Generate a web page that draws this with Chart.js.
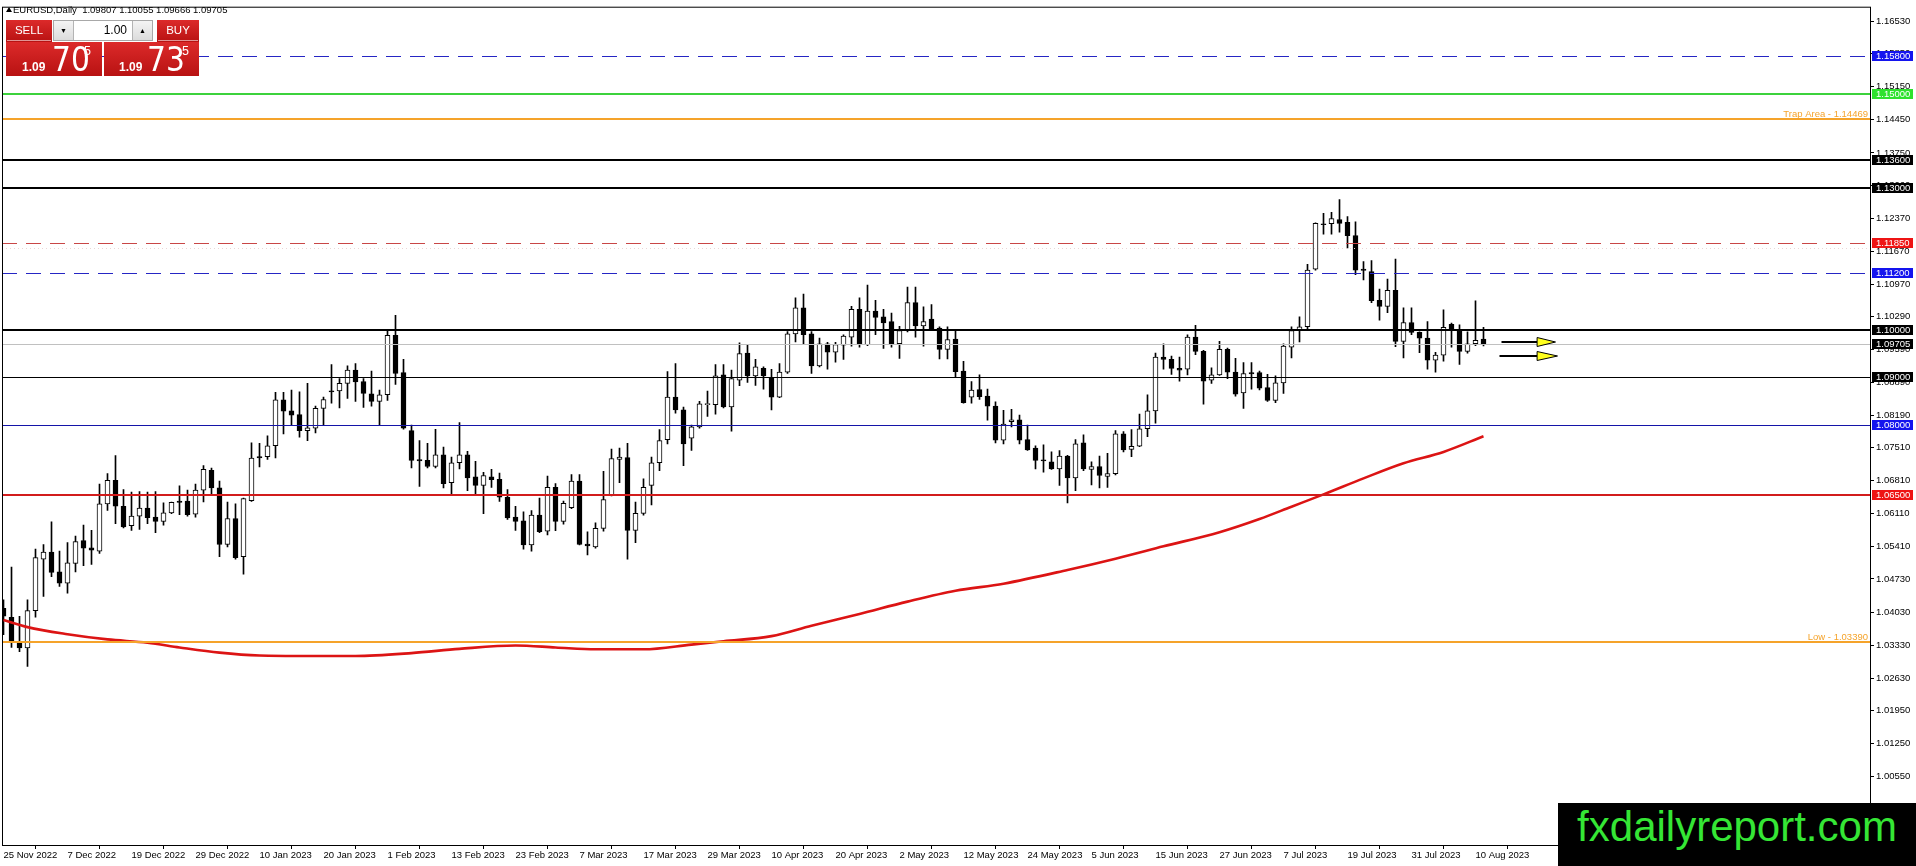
<!DOCTYPE html>
<html>
<head>
<meta charset="utf-8">
<title>EURUSD Daily</title>
<script src="https://cdn.jsdelivr.net/npm/chart.js@4.4.1/dist/chart.umd.min.js"></script>
<style>
  html, body { margin: 0; padding: 0; background: #fff; }
  #wrap { position: relative; width: 1916px; height: 866px; overflow: hidden; font-family: "Liberation Sans", Arial, sans-serif; }
  canvas { display: block; position: absolute; left: 0; top: 0; }
  #hdr { position: absolute; left: 13px; top: 5px; font-size: 9.5px; line-height: 9.5px; color: #000; white-space: pre; }
  #tri { position: absolute; left: 6px; top: 7px; width: 0; height: 0; border-left: 3px solid transparent; border-right: 3px solid transparent; border-bottom: 5px solid #000; }
  .red { position: absolute; background: linear-gradient(#dc2a2a, #b81212); color: #fff; }
  .btn { font-size: 11.5px; text-align: center; line-height: 21px; }
  .btn span { display: inline-block; border-bottom: 1px solid rgba(255,255,255,0.55); padding: 0 8px; line-height: 19px; }
  #lot { position: absolute; left: 53px; top: 20px; width: 98px; height: 19px; border: 1px solid #a8a8a8; background: #fff; }
  #lot .b { position: absolute; top: 0; width: 19px; height: 19px; background: linear-gradient(#f4f4f4, #dcdcdc); font-size: 7px; line-height: 19px; text-align: center; color: #000; }
  #lot .v { position: absolute; left: 20px; width: 53px; top: 0; height: 19px; font-size: 12px; line-height: 19px; text-align: right; color: #000; }
  .px span { position: absolute; color: #fff; white-space: nowrap; }
  .px .sm { font-size: 12px; line-height: 12px; font-weight: bold; top: 19px; }
  .px .big { font-family: "Liberation Sans Narrow", "DejaVu Sans Condensed", "Liberation Sans", sans-serif; font-size: 33px; line-height: 33px; top: 1px; }
  .px .sup { font-size: 12.5px; line-height: 12.5px; top: 3px; }
  #mark { position: absolute; left: 1558px; top: 803px; width: 358px; height: 63px; background: #000; color: #35e635; font-size: 42px; line-height: 48px; text-align: center; }
</style>
</head>
<body>
<div id="wrap">
  <canvas id="fx" width="1916" height="866"></canvas>
  <div id="tri"></div>
  <div id="hdr"></div>
  <div class="red btn" style="left:6px;top:20px;width:46px;height:22px;"><span>SELL</span></div>
  <div id="lot"><div class="b" style="left:0;border-right:1px solid #b4b4b4;">&#9660;</div><div class="v">1.00</div><div class="b" style="right:0;border-left:1px solid #b4b4b4;">&#9650;</div></div>
  <div class="red btn" style="left:157px;top:20px;width:42px;height:22px;"><span>BUY</span></div>
  <div class="red px" style="left:6px;top:42px;width:96px;height:34px;"><span class="sm" style="left:16px;">1.09</span><span class="big" style="left:46px;">70</span><span class="sup" style="left:78px;">5</span></div>
  <div class="red px" style="left:104px;top:42px;width:95px;height:34px;"><span class="sm" style="left:15px;">1.09</span><span class="big" style="left:43px;">73</span><span class="sup" style="left:78px;">5</span></div>
  <div id="mark">fxdailyreport.com</div>
</div>
<script>
// EURUSD daily candles, 25 Nov 2022 .. 11 Aug 2023
const opens = [
  1.0411, 1.0392, 1.0338, 1.0327, 1.0406, 1.0515, 1.0530, 1.0488, 1.0464, 1.0506,
  1.0554, 1.0539, 1.0532, 1.0632, 1.0682, 1.0627, 1.0586, 1.0606, 1.0623, 1.0604,
  1.0595, 1.0613, 1.0638, 1.0638, 1.0610, 1.0661, 1.0703, 1.0666, 1.0546, 1.0601,
  1.0520, 1.0639, 1.0732, 1.0732, 1.0755, 1.0852, 1.0829, 1.0821, 1.0787, 1.0792,
  1.0834, 1.0871, 1.0871, 1.0887, 1.0915, 1.0891, 1.0865, 1.0849, 1.0863, 1.0989,
  1.0910, 1.0787, 1.0726, 1.0724, 1.0711, 1.0736, 1.0677, 1.0719, 1.0736, 1.0689,
  1.0671, 1.0689, 1.0684, 1.0646, 1.0604, 1.0596, 1.0545, 1.0608, 1.0574, 1.0667,
  1.0595, 1.0624, 1.0680, 1.0547, 1.0541, 1.0580, 1.0650, 1.0726, 1.0730, 1.0576,
  1.0612, 1.0671, 1.0719, 1.0768, 1.0858, 1.0831, 1.0771, 1.0795, 1.0842, 1.0842,
  1.0905, 1.0837, 1.0894, 1.0951, 1.0903, 1.0919, 1.0900, 1.0858, 1.0911, 1.0992,
  1.1047, 1.0992, 1.0924, 1.0971, 1.0953, 1.0968, 1.0985, 1.1044, 1.0969, 1.1040,
  1.1028, 1.1018, 1.0971, 1.0999, 1.1058, 1.1009, 1.1023, 1.1004, 1.0959, 1.0981,
  1.0913, 1.0858, 1.0874, 1.0860, 1.0839, 1.0767, 1.0806, 1.0810, 1.0768, 1.0750,
  1.0724, 1.0721, 1.0706, 1.0733, 1.0687, 1.0761, 1.0705, 1.0711, 1.0690, 1.0696,
  1.0780, 1.0747, 1.0754, 1.0791, 1.0829, 1.0943, 1.0938, 1.0919, 1.0917, 1.0985,
  1.0955, 1.0894, 1.0905, 1.0959, 1.0911, 1.0867, 1.0910, 1.0910, 1.0878, 1.0851,
  1.0888, 1.0964, 1.1001, 1.1007, 1.1129, 1.1225, 1.1225, 1.1234, 1.1228, 1.1200,
  1.1129, 1.1124, 1.1063, 1.1050, 1.1084, 1.0976, 1.1016, 1.0995, 1.0983, 1.0936,
  1.0947, 1.1012, 1.0999, 1.0955, 1.0971, 1.09807
];
const highs = [
  1.0429, 1.0498, 1.0394, 1.0429, 1.0536, 1.0546, 1.0594, 1.0532, 1.0550, 1.0564,
  1.0587, 1.0576, 1.0674, 1.0696, 1.0734, 1.0662, 1.0657, 1.0658, 1.0657, 1.0658,
  1.0634, 1.0636, 1.0670, 1.0661, 1.0674, 1.0713, 1.0708, 1.0680, 1.0636, 1.0632,
  1.0644, 1.0761, 1.0760, 1.0776, 1.0868, 1.0868, 1.0873, 1.0869, 1.0887, 1.0839,
  1.0858, 1.0927, 1.0897, 1.0924, 1.0929, 1.0897, 1.0913, 1.0873, 1.0999, 1.1031,
  1.0938, 1.0799, 1.0766, 1.0760, 1.0790, 1.0752, 1.0731, 1.0804, 1.0743, 1.0722,
  1.0699, 1.0705, 1.0697, 1.0662, 1.0627, 1.0615, 1.0618, 1.0644, 1.0691, 1.0675,
  1.0638, 1.0694, 1.0694, 1.0573, 1.0592, 1.0701, 1.0748, 1.0750, 1.0760, 1.0636,
  1.0685, 1.0731, 1.0789, 1.0912, 1.0929, 1.0837, 1.0799, 1.0849, 1.0871, 1.0927,
  1.0927, 1.0915, 1.0973, 1.0968, 1.0938, 1.0922, 1.0917, 1.0929, 1.0997, 1.1068,
  1.1076, 1.0997, 1.0983, 1.0974, 1.0974, 1.0990, 1.1050, 1.1068, 1.1095, 1.1063,
  1.1044, 1.1036, 1.1008, 1.1091, 1.1091, 1.1049, 1.1054, 1.1007, 1.1007, 1.0999,
  1.0934, 1.0891, 1.0905, 1.0875, 1.0848, 1.0830, 1.0832, 1.0820, 1.0799, 1.0755,
  1.0757, 1.0742, 1.0745, 1.0735, 1.0768, 1.0778, 1.0721, 1.0733, 1.0739, 1.0787,
  1.0785, 1.0789, 1.0822, 1.0863, 1.0951, 1.0971, 1.0945, 1.0943, 1.0990, 1.1010,
  1.0957, 1.0920, 1.0976, 1.0962, 1.0940, 1.0931, 1.0931, 1.0913, 1.0906, 1.0903,
  1.0971, 1.1007, 1.1028, 1.1139, 1.1227, 1.1247, 1.1249, 1.1276, 1.1240, 1.1229,
  1.1145, 1.1147, 1.1087, 1.1108, 1.1150, 1.1047, 1.1047, 1.0996, 1.1018, 1.0953,
  1.1043, 1.1015, 1.1011, 1.0996, 1.1062, 1.10055
];
const lows = [
  1.0355, 1.0328, 1.0319, 1.0288, 1.0392, 1.0436, 1.0478, 1.0457, 1.0443, 1.0488,
  1.0501, 1.0504, 1.0527, 1.0618, 1.0590, 1.0581, 1.0576, 1.0578, 1.0590, 1.0571,
  1.0587, 1.0611, 1.0609, 1.0606, 1.0604, 1.0636, 1.0653, 1.0520, 1.0541, 1.0515,
  1.0483, 1.0637, 1.0710, 1.0726, 1.0729, 1.0780, 1.0799, 1.0773, 1.0766, 1.0782,
  1.0799, 1.0845, 1.0835, 1.0855, 1.0849, 1.0836, 1.0839, 1.0799, 1.0851, 1.0885,
  1.0790, 1.0708, 1.0669, 1.0708, 1.0708, 1.0666, 1.0653, 1.0706, 1.0660, 1.0653,
  1.0611, 1.0667, 1.0637, 1.0599, 1.0576, 1.0536, 1.0532, 1.0571, 1.0566, 1.0575,
  1.0589, 1.0622, 1.0545, 1.0524, 1.0538, 1.0574, 1.0649, 1.0677, 1.0515, 1.0550,
  1.0608, 1.0630, 1.0702, 1.0759, 1.0824, 1.0713, 1.0745, 1.0792, 1.0817, 1.0822,
  1.0835, 1.0786, 1.0882, 1.0889, 1.0883, 1.0875, 1.0831, 1.0857, 1.0908, 1.0975,
  1.0971, 1.0908, 1.0922, 1.0917, 1.0932, 1.0938, 1.0966, 1.0964, 1.0967, 1.0990,
  1.0961, 1.0964, 1.0940, 1.0996, 1.0985, 1.0966, 1.1000, 1.0939, 1.0939, 1.0899,
  1.0845, 1.0845, 1.0853, 1.0809, 1.0761, 1.0759, 1.0795, 1.0759, 1.0745, 1.0706,
  1.0699, 1.0705, 1.0671, 1.0634, 1.0660, 1.0702, 1.0672, 1.0666, 1.0667, 1.0693,
  1.0742, 1.0732, 1.0753, 1.0774, 1.0803, 1.0917, 1.0906, 1.0892, 1.0905, 1.0948,
  1.0843, 1.0887, 1.0904, 1.0897, 1.0860, 1.0834, 1.0875, 1.0873, 1.0849, 1.0846,
  1.0866, 1.0941, 1.0975, 1.1003, 1.1127, 1.1203, 1.1203, 1.1207, 1.1174, 1.1117,
  1.1106, 1.1058, 1.1021, 1.1037, 1.0965, 1.0941, 1.0990, 1.0952, 1.0917, 1.0911,
  1.0934, 1.0964, 1.0927, 1.0951, 1.0967, 1.09666
];
const closes = [
  1.0394, 1.0341, 1.0327, 1.0406, 1.0518, 1.0530, 1.0487, 1.0464, 1.0507, 1.0552,
  1.0538, 1.0534, 1.0632, 1.0682, 1.0627, 1.0583, 1.0606, 1.0623, 1.0603, 1.0595,
  1.0613, 1.0635, 1.0635, 1.0609, 1.0661, 1.0705, 1.0666, 1.0546, 1.0601, 1.0518,
  1.0643, 1.0729, 1.0729, 1.0755, 1.0852, 1.0828, 1.0820, 1.0787, 1.0793, 1.0834,
  1.0853, 1.0869, 1.0887, 1.0915, 1.0890, 1.0866, 1.0849, 1.0863, 1.0989, 1.0908,
  1.0792, 1.0724, 1.0723, 1.0711, 1.0736, 1.0675, 1.0719, 1.0736, 1.0687, 1.0671,
  1.0692, 1.0683, 1.0646, 1.0602, 1.0595, 1.0545, 1.0608, 1.0573, 1.0667, 1.0595,
  1.0633, 1.0680, 1.0546, 1.0543, 1.0580, 1.0641, 1.0728, 1.0731, 1.0576, 1.0612,
  1.0667, 1.0719, 1.0766, 1.0858, 1.0831, 1.0759, 1.0795, 1.0844, 1.0844, 1.0903,
  1.0837, 1.0897, 1.0950, 1.0903, 1.0922, 1.0903, 1.0858, 1.0911, 1.0992, 1.1047,
  1.0990, 1.0924, 1.0971, 1.0953, 1.0969, 1.0987, 1.1044, 1.0971, 1.1040, 1.1027,
  1.1015, 1.0971, 1.0999, 1.1058, 1.1009, 1.1018, 1.1001, 1.0959, 1.0980, 1.0912,
  1.0846, 1.0873, 1.0859, 1.0839, 1.0767, 1.0801, 1.0810, 1.0767, 1.0746, 1.0724,
  1.0723, 1.0706, 1.0733, 1.0687, 1.0759, 1.0706, 1.0711, 1.0692, 1.0696, 1.0780,
  1.0746, 1.0754, 1.0791, 1.0829, 1.0943, 1.0938, 1.0919, 1.0915, 1.0985, 1.0955,
  1.0892, 1.0905, 1.0959, 1.0911, 1.0864, 1.0908, 1.0907, 1.0877, 1.0851, 1.0888,
  1.0966, 1.0999, 1.1007, 1.1127, 1.1226, 1.1223, 1.1236, 1.1226, 1.1200, 1.1127,
  1.1126, 1.1062, 1.1050, 1.1084, 1.0976, 1.1016, 1.0995, 1.0983, 1.0936, 1.0947,
  1.1006, 1.1002, 1.0955, 1.0971, 1.0978, 1.09705
];

// moving average, read at a few bars (bar index, price)
const maBars = [0, 3, 8, 13, 18, 22, 27, 32, 38, 44, 51, 57, 64, 69, 74, 80, 86, 90, 96, 101, 107, 113, 119, 125, 133, 139, 145, 152, 157, 161, 165, 170, 175, 180, 185];
const maValues = [1.0386, 1.0371, 1.0356, 1.0345, 1.0338, 1.0328, 1.0317, 1.0311, 1.0310, 1.0310, 1.0316, 1.0325, 1.0332, 1.0328, 1.0324, 1.0324, 1.0334, 1.0341, 1.0352, 1.0374, 1.0399, 1.0425, 1.0448, 1.0463, 1.0492, 1.0516, 1.0542, 1.0572, 1.0600, 1.0626, 1.0652, 1.0686, 1.0718, 1.0742, 1.0775];

// axis ticks
const dateTickBars = [0, 8, 16, 24, 32, 40, 48, 56, 64, 72, 80, 88, 96, 104, 112, 120, 128, 136, 144, 152, 160, 168, 176, 184];
const dateLabels = ['25 Nov 2022', '7 Dec 2022', '19 Dec 2022', '29 Dec 2022', '10 Jan 2023', '20 Jan 2023', '1 Feb 2023', '13 Feb 2023',
  '23 Feb 2023', '7 Mar 2023', '17 Mar 2023', '29 Mar 2023', '10 Apr 2023', '20 Apr 2023', '2 May 2023', '12 May 2023',
  '24 May 2023', '5 Jun 2023', '15 Jun 2023', '27 Jun 2023', '7 Jul 2023', '19 Jul 2023', '31 Jul 2023', '10 Aug 2023'];
const priceTicks = [1.16530, 1.15850, 1.15150, 1.14450, 1.13750, 1.13060, 1.12370, 1.11670, 1.10970, 1.10290, 1.09590, 1.08890,
  1.08190, 1.07510, 1.06810, 1.06110, 1.05410, 1.04730, 1.04030, 1.03330, 1.02630, 1.01950, 1.01250, 1.00550];

// horizontal levels drawn on the chart
const levelPrices = [1.15800, 1.15000, 1.14469, 1.13600, 1.13000, 1.11850, 1.11200, 1.10000, 1.09705, 1.09000, 1.08000, 1.06500, 1.03390];
const faintLevel = 1.1173;
const arrowPrices = [1.0975, 1.0944];

// styles for the levels (same order as levelPrices)
const levelStyles = [
  { color: '#2626c4', width: 1, dash: [15, 9], box: '#1414ee' },
  { color: '#3cd23c', width: 2, dash: [], box: '#2ee22e' },
  { color: '#f5a32a', width: 2, dash: [], text: 'Trap Area - ' },
  { color: '#000000', width: 2, dash: [], box: '#000000' },
  { color: '#000000', width: 2, dash: [], box: '#000000' },
  { color: '#c84646', width: 1, dash: [15, 9], box: '#ee1414' },
  { color: '#2626c4', width: 1, dash: [15, 9], box: '#1414ee' },
  { color: '#000000', width: 2, dash: [], box: '#000000' },
  { color: '#c0c0c0', width: 1, dash: [], box: '#000000' },
  { color: '#000000', width: 1, dash: [], box: '#000000' },
  { color: '#1414a8', width: 1, dash: [], box: '#1414ee' },
  { color: '#d21c1c', width: 2, dash: [], box: '#ee1414' },
  { color: '#f5a32a', width: 2, dash: [], text: 'Low - ' }
];
const FONT = '"Liberation Sans", Arial, sans-serif';

const last = opens.length - 1;
document.getElementById('hdr').textContent = 'EURUSD,Daily  ' + [opens[last], highs[last], lows[last], closes[last]].map(v => v.toFixed(5)).join(' ');

function lineY(y, w) {
  return w % 2 ? Math.round(y) + 0.5 : Math.round(y);
}

const overlay = {
  id: 'mt4Overlay',
  afterDatasetsDraw(chart) {
    const { ctx, chartArea: a, scales: { x, y } } = chart;
    ctx.save();
    ctx.beginPath();
    ctx.rect(a.left, a.top, a.right - a.left, a.bottom - a.top);
    ctx.clip();

    // faint dotted line
    ctx.strokeStyle = '#ead6d6';
    ctx.lineWidth = 1;
    ctx.setLineDash([1, 3]);
    let fy = lineY(y.getPixelForValue(faintLevel), 1);
    ctx.beginPath(); ctx.moveTo(a.left, fy); ctx.lineTo(a.right, fy); ctx.stroke();

    levelPrices.forEach((p, i) => {
      const s = levelStyles[i];
      const py = lineY(y.getPixelForValue(p), s.width);
      ctx.strokeStyle = s.color;
      ctx.lineWidth = s.width;
      ctx.setLineDash(s.dash);
      ctx.beginPath(); ctx.moveTo(a.left, py); ctx.lineTo(a.right, py); ctx.stroke();
      if (s.text) {
        ctx.fillStyle = s.color;
        ctx.font = '9.5px ' + FONT;
        ctx.textAlign = 'right';
        ctx.textBaseline = 'alphabetic';
        ctx.fillText(s.text + p.toFixed(5), a.right - 2, py - 2);
      }
    });
    ctx.setLineDash([]);

    // arrows pointing right of the last bar
    const x0 = x.getPixelForValue(last + 2.25);
    const x1 = x.getPixelForValue(last + 6.7);
    const x2 = x.getPixelForValue(last + 9.0);
    arrowPrices.forEach((p, k) => {
      const py = Math.round(y.getPixelForValue(p));
      ctx.strokeStyle = '#000';
      ctx.lineWidth = 2;
      ctx.beginPath(); ctx.moveTo(x0 - k * 2, py); ctx.lineTo(x1, py); ctx.stroke();
      ctx.fillStyle = '#ffff1e';
      ctx.lineWidth = 1;
      ctx.beginPath();
      ctx.moveTo(x1, py - 4.5); ctx.lineTo(x2 + k * 2, py); ctx.lineTo(x1, py + 4.5); ctx.closePath();
      ctx.fill(); ctx.stroke();
    });
    ctx.restore();
  },
  afterDraw(chart) {
    const { ctx, chartArea: a, scales: { y } } = chart;
    ctx.save();
    // frame
    ctx.strokeStyle = '#000';
    ctx.lineWidth = 1;
    ctx.strokeRect(a.left + 0.5, a.top - 0.5, a.right - a.left, a.bottom - a.top + 1);
    // price boxes on the right axis
    ctx.font = '9.5px ' + FONT;
    ctx.textAlign = 'left';
    ctx.textBaseline = 'middle';
    levelPrices.forEach((p, i) => {
      const s = levelStyles[i];
      if (!s.box) return;
      const py = y.getPixelForValue(p);
      ctx.fillStyle = s.box;
      ctx.fillRect(a.right + 2, Math.round(py) - 5, 41, 10);
      ctx.fillStyle = '#fff';
      ctx.fillText(p.toFixed(5), a.right + 6, Math.round(py) + 0.5);
    });
    ctx.restore();
  }
};

const wickData = lows.map((l, i) => ({ x: i, y: [l, highs[i]] }));
const bodyData = opens.map((o, i) => ({ x: i, y: [o, closes[i]] }));
const bodyColors = opens.map((o, i) => (closes[i] >= o ? '#ffffff' : '#000000'));
const maData = maBars.map((b, i) => ({ x: b, y: maValues[i] }));

new Chart(document.getElementById('fx'), {
  type: 'bar',
  data: {
    datasets: [
      { type: 'line', data: maData, borderColor: '#dc1414', borderWidth: 2.6, pointRadius: 0, cubicInterpolationMode: 'monotone', order: 0 },
      { data: bodyData, backgroundColor: bodyColors, borderColor: '#000', borderWidth: 1, borderSkipped: false, barThickness: 5, minBarLength: 1, grouped: false, order: 1 },
      { data: wickData, backgroundColor: '#000', borderWidth: 0, barThickness: 1, grouped: false, order: 2 }
    ]
  },
  options: {
    responsive: false,
    animation: false,
    devicePixelRatio: 1,
    layout: { padding: { left: 2, top: 3, right: 0, bottom: 0 } },
    plugins: { legend: { display: false }, tooltip: { enabled: false } },
    scales: {
      x: {
        type: 'linear', position: 'bottom', bounds: 'data', min: -0.1875, max: 233.3125, offset: false,
        afterBuildTicks: s => { s.ticks = dateTickBars.map(v => ({ value: v })); },
        afterFit: s => { s.height = 21; },
        grid: { drawOnChartArea: false, drawTicks: true, tickLength: 4, color: '#000' },
        border: { display: false },
        ticks: { autoSkip: false, maxRotation: 0, align: 'start', padding: 1, color: '#000', font: { family: FONT, size: 9.5 },
          callback: (v, i) => dateLabels[i] }
      },
      y: {
        type: 'linear', position: 'right', bounds: 'data', min: 0.99097, max: 1.16825,
        afterBuildTicks: s => { s.ticks = priceTicks.map(v => ({ value: v })); },
        afterFit: s => { s.width = 46; },
        grid: { drawOnChartArea: false, drawTicks: true, tickLength: 4, color: '#000' },
        border: { display: false },
        ticks: { padding: 2, color: '#000', font: { family: FONT, size: 9.5 }, callback: v => v.toFixed(5) }
      }
    }
  },
  plugins: [overlay]
});
</script>
</body>
</html>
